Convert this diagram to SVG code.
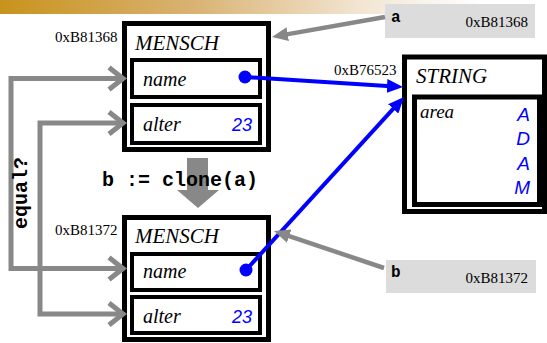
<svg xmlns="http://www.w3.org/2000/svg" width="547" height="343" viewBox="0 0 547 343">
<style>
.box{fill:#fff;stroke:#000;stroke-width:5}
.fld{fill:#fff;stroke:#000;stroke-width:4}
.ser{font-family:"Liberation Serif",serif;fill:#000}
.it{font-family:"Liberation Serif",serif;font-style:italic;fill:#000}
.num{font-family:"Liberation Sans",Arial,sans-serif;font-style:italic;fill:#0000ff}
.mono{font-family:"Liberation Mono","Courier New",monospace;font-weight:bold;fill:#000}
.gc{fill:none;stroke:#888;stroke-width:5}
.blue{fill:none;stroke:#0000ff;stroke-width:4}
.garr{fill:none;stroke:#888;stroke-width:4.5}
.lbl{fill:#dcdcdc}
</style>
<defs>
<linearGradient id="ban" x1="0" y1="0" x2="480" y2="0" gradientUnits="userSpaceOnUse">
<stop offset="0" stop-color="#c8931c"/>
<stop offset="0.4" stop-color="#d9b272"/>
<stop offset="0.75" stop-color="#f2e5d2"/>
<stop offset="1" stop-color="#ffffff"/>
</linearGradient>
<marker id="bah" markerUnits="userSpaceOnUse" viewBox="0 0 16 14" markerWidth="16" markerHeight="14" refX="4" refY="7" orient="auto"><path d="M0,0 L16,7 L0,14 z" fill="#0000ff"/></marker>
<marker id="gah" markerUnits="userSpaceOnUse" viewBox="0 0 16 14" markerWidth="16" markerHeight="14" refX="4" refY="7" orient="auto"><path d="M0,0 L16,7 L0,14 z" fill="#888"/></marker>
<marker id="chev" markerUnits="userSpaceOnUse" viewBox="-18 -15 24 30" markerWidth="24" markerHeight="30" refX="0" refY="0" orient="auto-start-reverse" overflow="visible"><path d="M-14,-11 L0,0 L-14,11" fill="none" stroke="#888" stroke-width="5"/></marker>
</defs>
<rect x="0" y="0" width="547" height="14" fill="url(#ban)"/>

<g id="mensch-a">
<rect class="box" x="124.5" y="23.5" width="144" height="126"/>
<text class="ser" x="55" y="42" font-size="15">0xB81368</text>
<text class="it" x="135" y="50" font-size="21">MENSCH</text>
<rect class="fld" x="132" y="60" width="128" height="37"/>
<text class="it" x="143" y="86" font-size="20">name</text>
<rect class="fld" x="132" y="105" width="128" height="38"/>
<text class="it" x="143" y="131" font-size="20">alter</text>
<text class="num" x="252" y="131" font-size="18" text-anchor="end">23</text>
</g>

<g id="mensch-b">
<rect class="box" x="124.5" y="217.5" width="144" height="122"/>
<text class="ser" x="55" y="235" font-size="15">0xB81372</text>
<text class="it" x="135" y="243" font-size="21">MENSCH</text>
<rect class="fld" x="132" y="254" width="128" height="36"/>
<text class="it" x="143" y="278" font-size="20">name</text>
<rect class="fld" x="132" y="297" width="128" height="36"/>
<text class="it" x="143" y="323" font-size="20">alter</text>
<text class="num" x="252" y="323" font-size="18" text-anchor="end">23</text>
</g>

<g id="string">
<rect class="box" x="404.5" y="57" width="140" height="154.5"/>
<text class="ser" x="334" y="75" font-size="15">0xB76523</text>
<text class="it" x="416" y="83" font-size="21">STRING</text>
<rect class="box" x="414.5" y="97" width="125" height="107.5"/>
<text class="it" x="420" y="118" font-size="19">area</text>
<text class="num" x="530" y="121" font-size="19" text-anchor="end">A</text>
<text class="num" x="530" y="145" font-size="19" text-anchor="end">D</text>
<text class="num" x="530" y="170" font-size="19" text-anchor="end">A</text>
<text class="num" x="530" y="194" font-size="19" text-anchor="end">M</text>
</g>

<g id="var-a">
<rect class="lbl" x="385" y="4" width="150" height="34"/>
<text class="mono" x="391" y="22" font-size="16">a</text>
<text class="ser" x="528" y="27" font-size="15" text-anchor="end">0xB81368</text>
</g>

<g id="var-b">
<rect class="lbl" x="386" y="260" width="150" height="33"/>
<text class="mono" x="391" y="277" font-size="16">b</text>
<text class="ser" x="528" y="283" font-size="15" text-anchor="end">0xB81372</text>
</g>

<g id="clone">
<path d="M187,158 H208 V190 H219 L198,208 L177,190 H187 Z" fill="#888"/>
<text class="mono" x="180" y="186" font-size="20" text-anchor="middle">b := clone(a)</text>
</g>

<g id="connectors">
<path class="gc" d="M123,78.5 H11 V268.5 H123" marker-start="url(#chev)" marker-end="url(#chev)"/>
<path class="gc" d="M123,123 H40 V314 H123" marker-start="url(#chev)" marker-end="url(#chev)"/>
<text class="mono" font-size="20" text-anchor="middle" transform="translate(27,193) rotate(-90)">equal?</text>
<line class="blue" x1="245" y1="77" x2="391" y2="86.2" marker-end="url(#bah)"/>
<circle cx="245" cy="77" r="6.5" fill="#0000ff"/>
<line class="blue" x1="246" y1="270" x2="395.9" y2="105.9" marker-end="url(#bah)"/>
<circle cx="246" cy="270" r="6.5" fill="#0000ff"/>
<line class="garr" x1="385" y1="17" x2="283.8" y2="34.9" marker-end="url(#gah)"/>
<line class="garr" x1="384" y1="268" x2="285.4" y2="234.8" marker-end="url(#gah)"/>
</g>
</svg>
